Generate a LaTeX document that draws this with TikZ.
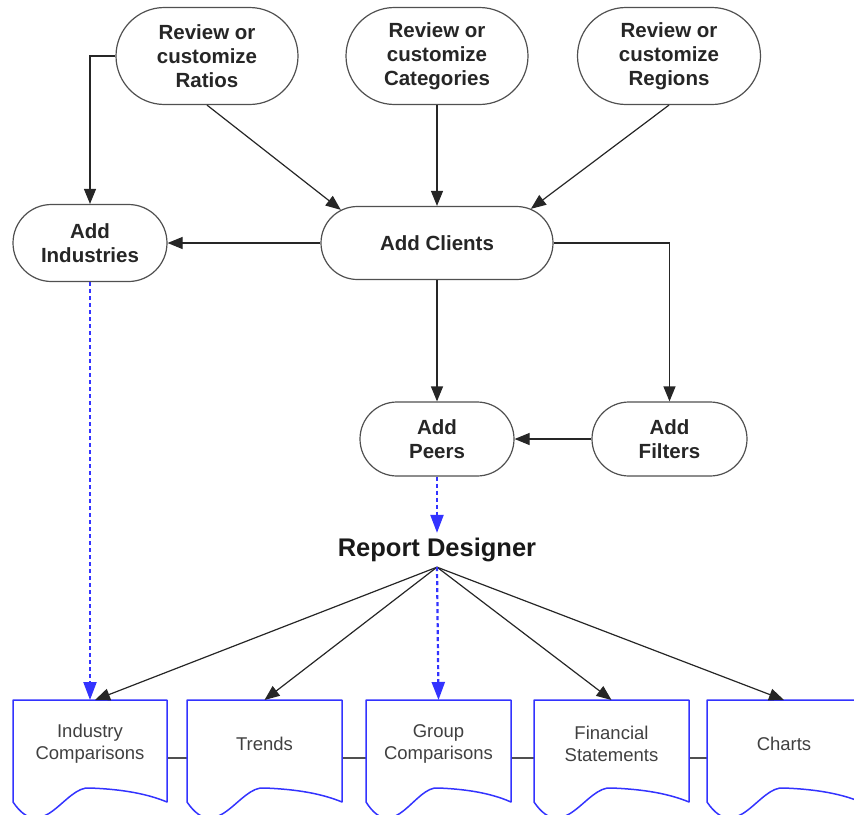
\documentclass[tikz,border=0pt]{standalone}
\usepackage{fontspec}
\setmainfont{Liberation Sans}
\usetikzlibrary{arrows.meta,shapes.misc}
\definecolor{docblue}{RGB}{51,51,255}
\definecolor{edgegray}{RGB}{80,80,80}

\begin{document}
\begin{tikzpicture}[
  x=1pt, y=-1pt,
  >={Triangle[length=15pt,width=12pt]},
  task/.style={rounded rectangle, draw=edgegray, fill=white, line width=1.2pt, align=center, inner sep=0pt, font=\fontsize{20.5}{24}\selectfont\bfseries, text=black!85},
  doc/.style={rectangle, minimum height=88pt, inner sep=0pt, outer sep=0pt, align=center, font=\fontsize{18.5}{22}\selectfont, text=black!75},
  docline/.style={draw=docblue, line width=1.5pt, line join=round},
  flow/.style={->, line width=1.2pt, draw=black!85},
  feed/.style={-{Triangle[length=18pt,width=13pt]}, line width=2.2pt, draw=docblue, dash pattern=on 4pt off 3pt},
  chain/.style={line width=1.3pt, draw=edgegray},
]
\clip (0,0) rectangle (854,814);

% ---- setup tasks ----
\node[task, minimum width=182pt, minimum height=97pt] (ratios)  at (207,56) {Review or\\customize\\Ratios};
\node[task, minimum width=182pt, minimum height=97pt] (cats)    at (437,56) {Review or\\customize\\Categories};
\node[task, minimum width=183pt, minimum height=97pt] (regions) at (669,56) {Review or\\customize\\Regions};

% ---- adding data ----
\node[task, minimum width=154pt, minimum height=77pt] (inds)    at (90,243)    {Add\\Industries};
\node[task, minimum width=232pt, minimum height=73pt] (clients) at (437,243)   {Add Clients};
\node[task, minimum width=154pt, minimum height=74pt] (peers)   at (437,439)   {Add\\Peers};
\node[task, minimum width=155pt, minimum height=74pt] (filters) at (669.5,439) {Add\\Filters};

\node[font=\fontsize{25.5}{30}\selectfont\bfseries, text=black!90, inner sep=5pt] (rd) at (437,550) {Report Designer};

% ---- reports ----
\node[doc, minimum width=154pt] (indc)   at (90,744)    {Industry\\Comparisons};
\node[doc, minimum width=155pt] (trends) at (264.5,744) {Trends};
\node[doc, minimum width=145pt] (grpc)   at (438.5,744) {Group\\Comparisons};
\node[doc, minimum width=155pt] (finst)  at (611.5,744) {Financial\\Statements};
\node[doc, minimum width=154pt] (charts) at (784,744)   {Charts};

\draw[chain] ([yshift=-14pt]indc.east)   -- ([yshift=-14pt]trends.west);
\draw[chain] ([yshift=-14pt]trends.east) -- ([yshift=-14pt]grpc.west);
\draw[chain] ([yshift=-14pt]grpc.east)   -- ([yshift=-14pt]finst.west);
\draw[chain] ([yshift=-14pt]finst.east)  -- ([yshift=-14pt]charts.west);
\foreach \d/\w in {indc/154, trends/155, grpc/145, finst/155, charts/154}
  \draw[docline, shift={(\d.south west)}, xscale=\w/154]
    (0,14) -- (0,-88) -- (154,-88) -- (154,14)
    .. controls (130,4) and (102,1) .. (77,0)
    .. controls (52,-3) and (30,58) .. (0,14);

% ---- flows ----
\draw[flow] (ratios.west) -| (inds.north);
\draw[flow] (ratios.south) -- (clients.161);
\draw[flow] (cats.south) -- (clients.north);
\draw[flow] (regions.south) -- (clients.20);
\draw[flow] (clients.west) -- (inds.east);
\draw[flow] (clients.south) -- (peers.north);
\draw[flow] (clients.east) -| (filters.north);
\draw[flow] (filters.west) -- (peers.east);
\draw[feed] (peers.south) -- (rd.north);
\draw[feed] (inds.south) -- (indc.north);
\draw[flow] (rd.south) -- ([xshift=5pt]indc.north);
\foreach \d in {trends, finst, charts} \draw[flow] (rd.south) -- (\d.north);
\draw[feed] (rd.south) -- (grpc.north);
\end{tikzpicture}
\end{document}
